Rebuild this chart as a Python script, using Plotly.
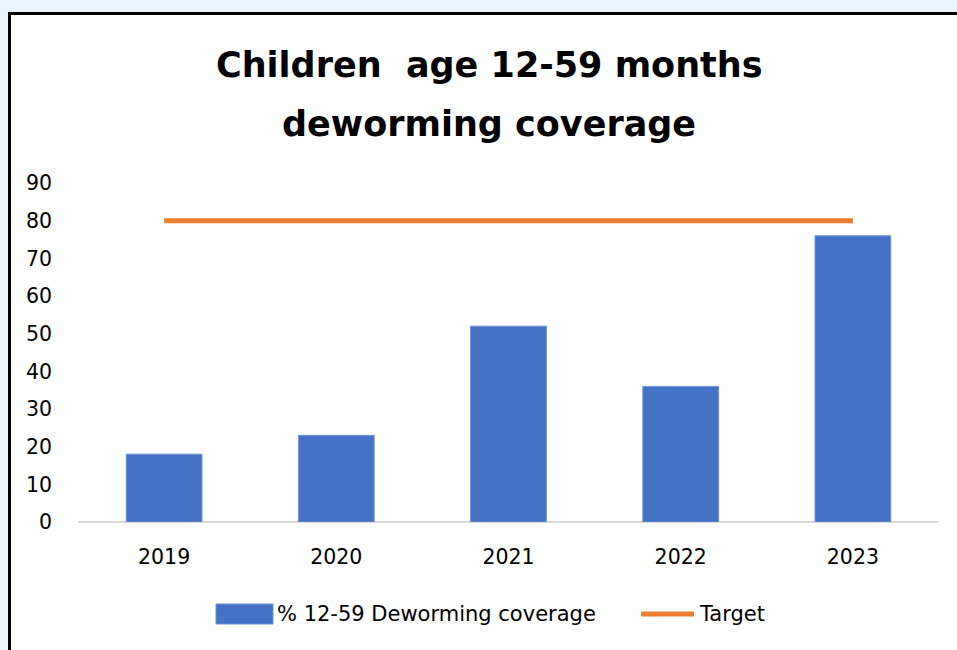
import plotly.graph_objects as go

years = ["2019", "2020", "2021", "2022", "2023"]
coverage = [18, 23, 52, 36, 76]
target = [80, 80, 80, 80, 80]
series_names = ["% 12-59 Deworming coverage", "Target"]
title_lines = ["Children  age 12-59 months", "deworming coverage"]

W, H = 957, 650
px = lambda x: x / W
py = lambda y: 1 - y / H

FONT = "DejaVu Sans, sans-serif"
BLUE = "#4472C4"
ORANGE = "#ED7D31"
TICK_SIZE = 20.5
LEGEND_SIZE = 21
TITLE_SIZE = 35

fig = go.Figure()
fig.add_trace(go.Bar(
    x=years, y=coverage, name=series_names[0],
    marker=dict(color=BLUE, line=dict(color="#6F93D6", width=1)),
))
fig.add_trace(go.Scatter(
    x=years, y=target, name=series_names[1], mode="lines",
    line=dict(color=ORANGE, width=5),
))

shapes = [
    dict(type="rect", xref="paper", yref="paper",
         x0=px(9.5), x1=px(990), y0=py(700), y1=py(13.5),
         line=dict(color="#000000", width=3), fillcolor="#FFFFFF", layer="below"),
    # legend keys
    dict(type="rect", xref="paper", yref="paper",
         x0=px(216), x1=px(273), y0=py(624), y1=py(604),
         line=dict(color="#6F93D6", width=1), fillcolor=BLUE),
    dict(type="line", xref="paper", yref="paper",
         x0=px(641), x1=px(694), y0=py(614), y1=py(614),
         line=dict(color=ORANGE, width=5)),
]

annotations = [
    dict(text="<b>" + title_lines[0] + "</b>", xref="paper", yref="paper",
         x=px(489), y=py(65), xanchor="center", yanchor="middle", showarrow=False,
         font=dict(size=TITLE_SIZE, family=FONT, color="#000000")),
    dict(text="<b>" + title_lines[1] + "</b>", xref="paper", yref="paper",
         x=px(489), y=py(124), xanchor="center", yanchor="middle", showarrow=False,
         font=dict(size=TITLE_SIZE, family=FONT, color="#000000")),
    dict(text=series_names[0], xref="paper", yref="paper",
         x=px(275), y=py(614), xanchor="left", yanchor="middle", showarrow=False,
         font=dict(size=LEGEND_SIZE, family=FONT, color="#000000")),
    dict(text=series_names[1], xref="paper", yref="paper",
         x=px(697), y=py(614), xanchor="left", yanchor="middle", showarrow=False,
         font=dict(size=LEGEND_SIZE, family=FONT, color="#000000")),
]

fig.update_layout(
    width=W, height=H,
    margin=dict(l=0, r=0, t=0, b=0, autoexpand=False),
    paper_bgcolor="#EAF4FD",
    plot_bgcolor="rgba(0,0,0,0)",
    bargap=0.56,
    font=dict(family=FONT, color="#000000", size=TICK_SIZE),
    showlegend=False,
    xaxis=dict(domain=[px(78), px(939)], showgrid=False, zeroline=False, showline=False,
               automargin=False, ticks="", tickfont=dict(size=TICK_SIZE), ticklabelstandoff=20),
    yaxis=dict(domain=[py(522), py(183)], range=[0, 90], dtick=10, showgrid=False,
               automargin=False, zeroline=True, zerolinecolor="#D9D9D9", zerolinewidth=2,
               showline=False, ticks="", tickfont=dict(size=TICK_SIZE), ticklabelstandoff=25),
    shapes=shapes,
    annotations=annotations,
)

fig.write_html("out.html")
